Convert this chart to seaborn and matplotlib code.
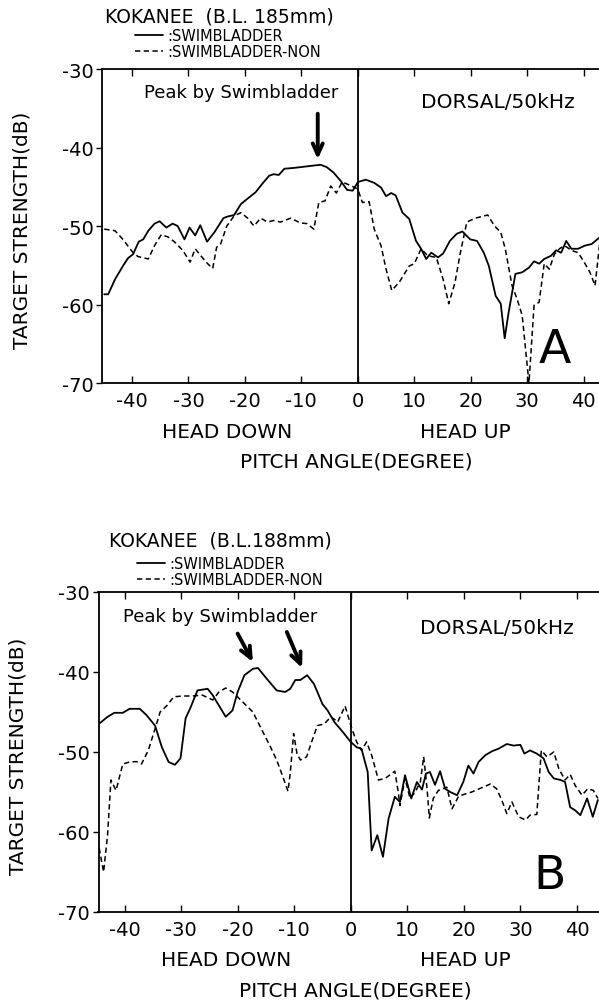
import matplotlib
matplotlib.use("Agg")
import matplotlib.pyplot as plt
import seaborn as sns
import pandas as pd

# Panel A - Kokanee B.L. 185mm (pitch angle in degrees, target strength in dB)
a_sb_angle = [-44.9, -44.2, -43.0, -41.6, -40.7, -39.8, -38.8, -38.0, -37.1, -36.0,
              -35.1, -33.9, -32.8, -31.9, -30.7, -29.8, -28.8, -27.9, -26.7, -25.4,
              -23.8, -23.1, -21.9, -20.7, -19.5, -18.1, -16.9, -15.7, -14.9, -14.0,
              -13.0, -11.3, -9.0, -6.6, -5.5, -4.3, -3.1, -1.9, -0.9, 0.0,
              1.4, 2.9, 4.1, 5.0, 5.9, 6.7, 7.9, 9.1, 10.3, 11.2,
              12.1, 13.0, 14.2, 15.1, 16.3, 17.5, 18.5, 19.9, 21.1, 22.3,
              23.2, 24.4, 25.3, 26.0, 26.7, 27.9, 29.1, 30.3, 31.2, 32.1,
              33.0, 34.2, 35.1, 36.0, 36.9, 37.8, 39.0, 40.2, 41.4, 42.9]
a_sb_ts = [-58.7, -58.7, -56.8, -55.1, -54.1, -53.6, -52.0, -51.7, -50.6, -49.7,
           -49.4, -50.2, -49.7, -50.0, -51.7, -50.2, -51.2, -49.9, -52.0, -50.8,
           -49.0, -48.8, -48.6, -47.2, -46.5, -45.7, -44.6, -43.6, -43.4, -43.5,
           -42.7, -42.6, -42.4, -42.2, -42.5, -43.2, -44.2, -45.4, -45.5, -44.4,
           -44.1, -44.5, -45.1, -46.2, -45.8, -46.1, -48.3, -49.1, -51.9, -52.9,
           -54.2, -53.4, -54.0, -53.5, -51.9, -51.0, -50.7, -51.7, -51.9, -53.4,
           -55.1, -58.9, -59.9, -64.3, -61.0, -56.1, -55.9, -55.3, -54.5, -54.8,
           -54.2, -53.8, -53.1, -53.4, -51.9, -52.9, -52.9, -52.5, -52.3, -51.4]

a_non_angle = [-44.9, -43.0, -41.6, -39.8, -38.9, -37.1, -36.0, -34.8, -33.6, -32.5,
               -31.0, -29.7, -28.8, -27.8, -26.6, -25.7, -25.0, -24.3, -23.2, -21.9,
               -20.7, -19.5, -18.4, -17.2, -16.0, -14.9, -13.7, -11.9, -10.2, -9.0,
               -7.8, -6.9, -5.8, -4.8, -3.8, -2.8, -1.4, 0.0, 0.8, 2.0,
               2.9, 4.1, 5.0, 6.0, 7.3, 9.1, 10.0, 11.2, 12.4, 13.9,
               15.1, 16.1, 17.2, 18.1, 19.3, 20.8, 23.0, 24.2, 25.3, 26.1,
               27.3, 28.2, 29.1, 30.3, 31.2, 32.1, 33.0, 33.9, 34.8, 35.7,
               36.6, 37.8, 39.0, 39.9, 41.1, 42.0, 42.9]
a_non_ts = [-50.4, -50.6, -51.7, -53.4, -53.9, -54.2, -52.5, -51.1, -51.4, -52.0,
            -53.1, -54.6, -52.9, -53.8, -54.8, -55.4, -52.7, -52.3, -50.0, -48.7,
            -48.3, -49.0, -50.0, -49.0, -49.5, -49.3, -49.5, -49.0, -49.6, -49.7,
            -50.4, -47.0, -46.8, -44.9, -45.8, -44.4, -44.8, -45.3, -47.0, -46.9,
            -50.4, -52.5, -55.5, -58.2, -57.2, -55.1, -54.8, -52.9, -53.8, -54.0,
            -56.8, -59.9, -57.2, -53.6, -49.5, -49.0, -48.6, -50.0, -50.8, -52.9,
            -57.6, -59.3, -61.4, -70.0, -60.1, -59.7, -54.8, -55.5, -53.6, -52.9,
            -52.5, -53.1, -53.4, -54.4, -55.9, -57.6, -51.7]

# Panel B - Kokanee B.L. 188mm
b_sb_angle = [-45.5, -44.2, -43.0, -41.8, -40.3, -39.1, -37.3, -36.1, -34.6, -33.4,
              -32.2, -31.1, -30.1, -29.2, -28.3, -27.1, -25.3, -24.4, -23.3, -22.1,
              -20.9, -20.0, -18.8, -17.3, -16.4, -14.9, -13.1, -11.6, -10.7, -9.8,
              -8.9, -7.7, -6.5, -5.0, -4.1, -2.9, -1.4, 0.0,
              1.06, 1.9, 3.0, 3.7, 4.7, 5.7, 6.7, 7.8, 8.7, 9.6,
              10.7, 11.7, 12.6, 13.3, 14.0, 14.9, 15.8, 16.7, 17.6, 18.8,
              19.9, 20.8, 21.7, 22.6, 23.8, 25.0, 26.1, 27.6, 28.8, 30.0,
              30.7, 31.7, 32.9, 34.1, 35.0, 35.9, 37.1, 37.9, 38.8, 39.7,
              40.6, 41.8, 42.8, 43.7]
b_sb_ts = [-46.9, -46.3, -45.6, -45.1, -45.1, -44.6, -44.6, -45.4, -46.7, -49.4,
           -51.25, -51.6, -50.8, -45.8, -44.4, -42.3, -42.1, -42.9, -44.2, -45.6,
           -44.8, -42.5, -40.4, -39.6, -39.5, -40.8, -42.3, -42.5, -42.1, -41.0,
           -41.0, -40.4, -41.5, -44.0, -44.8, -46.25, -47.5, -48.75,
           -49.4, -49.6, -52.5, -62.3, -60.4, -63.1, -58.3, -55.6, -56.25, -52.9,
           -55.8, -53.75, -54.7, -52.7, -52.5, -54.1, -52.4, -54.6, -55.0, -55.4,
           -53.75, -51.7, -52.7, -51.25, -50.4, -49.9, -49.6, -49.0, -49.2, -49.1,
           -50.2, -49.8, -50.2, -50.8, -52.5, -53.3, -53.5, -53.75, -56.9, -57.3,
           -57.9, -55.8, -58.1, -56.0]

b_non_angle = [-45.5, -44.8, -43.7, -43.0, -42.4, -41.5, -40.3, -39.1, -37.9, -37.0,
               -35.8, -34.6, -33.7, -32.5, -31.3, -29.8, -28.0, -26.2, -24.4, -23.3,
               -22.1, -20.9, -19.1, -17.3, -16.1, -14.3, -13.1, -12.0, -11.1, -10.7,
               -10.1, -9.5, -8.9, -7.8, -6.8, -5.9, -4.7, -3.5, -2.3,
               -1.0, 0.2, 1.06, 1.9, 2.8, 3.7, 4.9, 6.1, 7.8, 8.4,
               8.7, 9.6, 10.5, 11.4, 12.3, 12.9, 13.5, 13.9, 14.6, 15.5,
               17.0, 17.9, 19.1, 21.4, 24.7, 25.8, 26.7, 27.6, 28.5, 29.7,
               30.9, 31.7, 32.9, 33.7, 34.7, 35.9, 36.8, 37.9, 38.8, 39.7,
               40.9, 41.9, 42.9, 43.7]
b_non_ts = [-60.0, -60.8, -65.0, -60.4, -53.5, -54.8, -51.5, -51.25, -51.2, -51.5,
            -49.8, -47.1, -45.0, -44.2, -43.1, -43.0, -43.0, -42.9, -43.5, -42.5,
            -42.0, -42.5, -43.75, -45.0, -46.7, -49.2, -51.0, -53.1, -54.9, -52.7,
            -47.7, -50.2, -51.0, -50.6, -48.5, -46.7, -46.5, -45.6, -46.25,
            -44.25, -47.1, -48.75, -49.8, -48.75, -50.4, -53.5, -53.3, -52.4, -55.0,
            -56.7, -53.3, -55.8, -55.0, -53.75, -50.6, -54.6, -58.25, -55.8, -54.8,
            -54.4, -57.1, -55.5, -55.0, -54.0, -54.6, -56.0, -57.7, -56.25, -58.1,
            -58.5, -57.9, -57.8, -49.8, -50.6, -50.0, -52.1, -53.5, -52.8, -54.2,
            -55.4, -54.6, -54.8, -55.8]

x_ticks = [-40, -30, -20, -10, 0, 10, 20, 30, 40]
x_tick_labels = ["-40", "-30", "-20", "-10", "0", "10", "20", "30", "40"]
y_ticks = [-70, -60, -50, -40, -30]
y_tick_labels = ["-70", "-60", "-50", "-40", "-30"]

legend_labels = [":SWIMBLADDER", ":SWIMBLADDER-NON"]
titles = ["KOKANEE  (B.L. 185mm)", "KOKANEE  (B.L.188mm)"]
letters = ["A", "B"]

sns.set_style("ticks")
plt.rcParams['font.family'] = ['DejaVu Sans']
plt.rcParams['axes.unicode_minus'] = False
plt.rcParams['text.color'] = 'black'
plt.rcParams['xtick.color'] = 'black'
plt.rcParams['ytick.color'] = 'black'
plt.rcParams['axes.labelcolor'] = 'black'

fig = plt.figure(figsize=(5.99, 10.04), dpi=100)
axA = fig.add_axes([102 / 599, 1 - 384 / 1004, 1 - 102 / 599, 314 / 1004])
axB = fig.add_axes([98.5 / 599, 1 - 913 / 1004, 1 - 98.5 / 599, 320 / 1004])

dash = (0, (3.5, 2.2))


def draw_panel(ax, sb_x, sb_y, non_x, non_y, xlim, title, letter, title_pos, leg_pos, layout):
    sb = pd.DataFrame({"angle": sb_x, "ts": sb_y})
    non = pd.DataFrame({"angle": non_x, "ts": non_y})
    sns.lineplot(data=sb, x="angle", y="ts", ax=ax, color="black", lw=1.3,
                 estimator=None, sort=False, label=legend_labels[0])
    sns.lineplot(data=non, x="angle", y="ts", ax=ax, color="black", lw=1.1,
                 linestyle=dash, estimator=None, sort=False, label=legend_labels[1])
    ax.axvline(0, color="black", lw=1.3)

    ax.set_xlim(*xlim)
    ax.set_ylim(-70, -30)
    ax.set_xticks(x_ticks)
    ax.set_xticklabels(x_tick_labels)
    ax.set_yticks(y_ticks)
    ax.set_yticklabels(y_tick_labels)
    ax.set_xlabel("")
    ax.set_ylabel("")
    ax.tick_params(axis="x", direction="in", top=True, length=5, width=1.0,
                   labelsize=14, pad=6, colors="black")
    ax.tick_params(axis="y", direction="out", length=4, width=1.0, labelsize=14,
                   pad=2, colors="black")
    for side in ["left", "bottom", "top"]:
        ax.spines[side].set_linewidth(1.3)
        ax.spines[side].set_color("black")
    ax.spines["right"].set_visible(False)

    leg = ax.legend(loc="center left", bbox_to_anchor=leg_pos, frameon=False,
                    fontsize=10.5, handlelength=1.9, handletextpad=0.3,
                    labelspacing=0.07, borderpad=0, borderaxespad=0)
    for t in leg.get_texts():
        t.set_color("black")

    ax.text(title_pos[0], title_pos[1], title, transform=ax.transAxes,
            ha="center", va="center", fontsize=13.5, color="black")
    ax.text(-0.161, 0.49, "TARGET STRENGTH(dB)", transform=ax.transAxes,
            rotation=90, ha="center", va="center", fontsize=14.5, color="black")
    xt = ax.get_xaxis_transform()
    ax.text(layout["down"], layout["sub_y"], "HEAD DOWN", transform=xt,
            ha="center", va="center", fontsize=14.5, color="black")
    ax.text(layout["up"], layout["sub_y"], "HEAD UP", transform=xt,
            ha="center", va="center", fontsize=14.5, color="black")
    ax.text(layout["pitch_x"], layout["pitch_y"], "PITCH ANGLE(DEGREE)",
            transform=ax.transAxes, ha="center", va="center", fontsize=14.5, color="black")
    ax.text(layout["dorsal"][0], layout["dorsal"][1], "DORSAL/50kHz",
            ha="center", va="center", fontsize=14.5, color="black")
    ax.text(layout["peak"][0], layout["peak"][1], "Peak by Swimbladder",
            ha="center", va="center", fontsize=13, color="black")
    ax.text(layout["letter"][0], layout["letter"][1], letter,
            ha="center", va="center", fontsize=34, color="black")
    for start, tip in layout["arrows"]:
        ax.annotate("", xy=tip, xytext=start,
                    arrowprops=dict(arrowstyle="->,head_length=0.8,head_width=0.36",
                                    lw=2.8, color="black", shrinkA=0, shrinkB=0))


layout_a = {"down": -23.2, "up": 19.1, "sub_y": -0.153, "pitch_x": 0.511, "pitch_y": -0.248,
            "dorsal": (24.8, -34.2), "peak": (-20.7, -32.9), "letter": (34.9, -65.7),
            "arrows": [((-7.1, -35.7), (-7.1, -41.5))]}
layout_b = {"down": -22.0, "up": 20.2, "sub_y": -0.15, "pitch_x": 0.514, "pitch_y": -0.244,
            "dorsal": (25.8, -34.4), "peak": (-23.1, -33.0), "letter": (35.2, -65.5),
            "arrows": [((-20.0, -35.2), (-17.3, -38.75)), ((-11.3, -35.0), (-8.6, -39.5))]}

draw_panel(axA, a_sb_angle, a_sb_ts, a_non_angle, a_non_ts, (-45.3, 42.7),
           titles[0], letters[0], (0.237, 1.169), (0.066, 1.081), layout_a)
draw_panel(axB, b_sb_angle, b_sb_ts, b_non_angle, b_non_ts, (-44.6, 43.9),
           titles[1], letters[1], (0.243, 1.1625), (0.077, 1.064), layout_b)

fig.savefig("out.png", dpi=100)
